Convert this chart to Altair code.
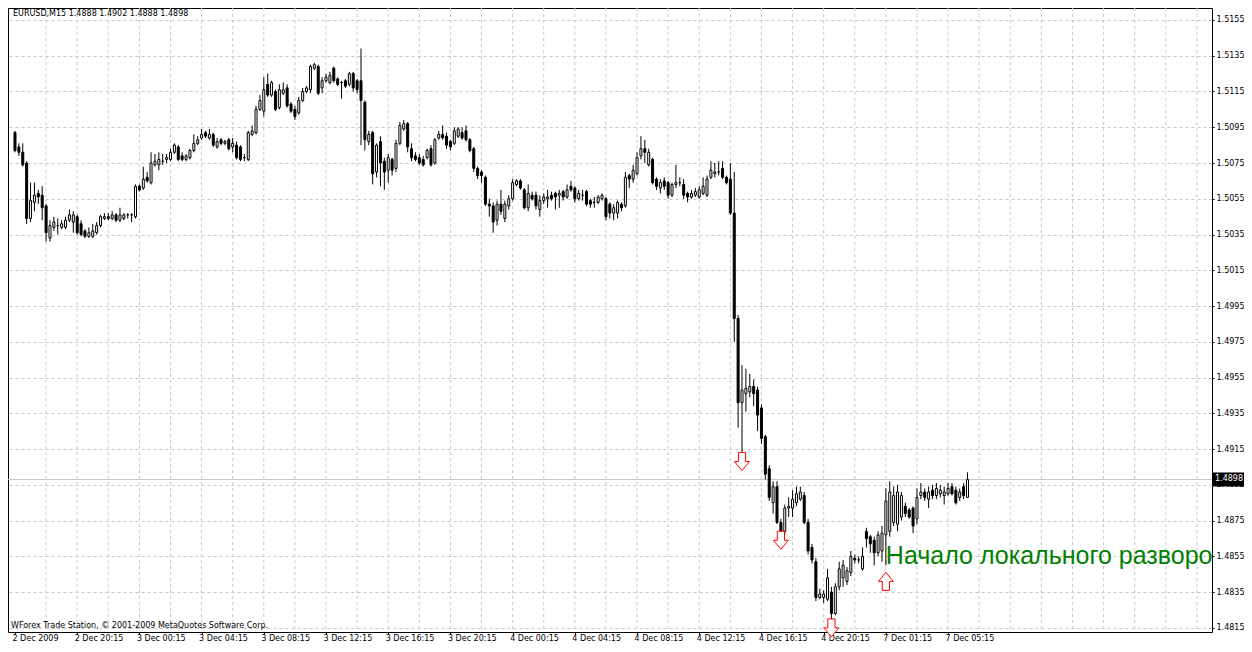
import altair as alt
import pandas as pd

# ---------------- data (EURUSD M15) ----------------
opens = [
    1.5092, 1.5084, 1.5081, 1.5075, 1.5044, 1.5053, 1.5058, 1.5057, 1.5051, 1.5033,
    1.5039, 1.5040, 1.5039, 1.5039, 1.5043, 1.5042, 1.5045, 1.5041, 1.5037, 1.5034,
    1.5034, 1.5036, 1.5040, 1.5044, 1.5045, 1.5044, 1.5046, 1.5043, 1.5044, 1.5046,
    1.5046, 1.5045, 1.5062, 1.5061, 1.5067, 1.5064, 1.5074, 1.5074, 1.5076, 1.5077,
    1.5077, 1.5081, 1.5084, 1.5079, 1.5077, 1.5078, 1.5082, 1.5086, 1.5089, 1.5092,
    1.5089, 1.5091, 1.5084, 1.5088, 1.5086, 1.5088, 1.5084, 1.5085, 1.5084, 1.5078,
    1.5077, 1.5091, 1.5092, 1.5105, 1.5104, 1.5119, 1.5113, 1.5115, 1.5106, 1.5114,
    1.5117, 1.5108, 1.5105, 1.5103, 1.5110, 1.5115, 1.5116, 1.5128, 1.5129, 1.5117,
    1.5121, 1.5120, 1.5128, 1.5122, 1.5120, 1.5121, 1.5119, 1.5125, 1.5121, 1.5121,
    1.5109, 1.5087, 1.5092, 1.5070, 1.5087, 1.5076, 1.5071, 1.5077, 1.5072, 1.5086,
    1.5094, 1.5097, 1.5083, 1.5079, 1.5078, 1.5077, 1.5078, 1.5083, 1.5075, 1.5089,
    1.5091, 1.5090, 1.5087, 1.5086, 1.5090, 1.5092, 1.5093, 1.5088, 1.5083, 1.5072,
    1.5070, 1.5067, 1.5052, 1.5051, 1.5043, 1.5052, 1.5044, 1.5051, 1.5055, 1.5063,
    1.5065, 1.5060, 1.5050, 1.5057, 1.5057, 1.5049, 1.5054, 1.5055, 1.5057, 1.5058,
    1.5057, 1.5059, 1.5056, 1.5062, 1.5061, 1.5055, 1.5057, 1.5059, 1.5054, 1.5053,
    1.5053, 1.5055, 1.5055, 1.5052, 1.5047, 1.5047, 1.5052, 1.5051, 1.5068, 1.5066,
    1.5069, 1.5079, 1.5083, 1.5074, 1.5077, 1.5066, 1.5061, 1.5065, 1.5064, 1.5057,
    1.5063, 1.5064, 1.5063, 1.5058, 1.5056, 1.5057, 1.5056, 1.5058, 1.5057, 1.5067,
    1.5069, 1.5070, 1.5072, 1.5067, 1.5066, 1.5047, 1.4988, 1.4941, 1.4946, 1.4947,
    1.4950, 1.4948, 1.4938, 1.4922, 1.4904, 1.4885, 1.4894, 1.4874, 1.4869, 1.4882,
    1.4882, 1.4885, 1.4887, 1.4889, 1.4874, 1.4860, 1.4852, 1.4832, 1.4832, 1.4831,
    1.4835, 1.4823, 1.4838, 1.4843, 1.4841, 1.4846, 1.4854, 1.4853, 1.4848, 1.4869,
    1.4866, 1.4864, 1.4857, 1.4858, 1.4867, 1.4869, 1.4874, 1.4873, 1.4877, 1.4883,
    1.4881, 1.4882, 1.4876, 1.4889, 1.4891, 1.4887, 1.4892, 1.4889, 1.4890, 1.4889,
    1.4890, 1.4894, 1.4892, 1.4888, 1.4894, 1.4888,
]
highs = [
    1.5093, 1.5086, 1.5086, 1.5076, 1.5064, 1.5064, 1.5060, 1.5062, 1.5052, 1.5043,
    1.5045, 1.5044, 1.5043, 1.5045, 1.5049, 1.5048, 1.5046, 1.5043, 1.5038, 1.5039,
    1.5041, 1.5042, 1.5046, 1.5047, 1.5047, 1.5048, 1.5047, 1.5050, 1.5047, 1.5047,
    1.5047, 1.5063, 1.5063, 1.5073, 1.5070, 1.5081, 1.5080, 1.5081, 1.5080, 1.5080,
    1.5083, 1.5086, 1.5085, 1.5081, 1.5080, 1.5083, 1.5091, 1.5090, 1.5094, 1.5093,
    1.5094, 1.5092, 1.5089, 1.5089, 1.5088, 1.5089, 1.5089, 1.5087, 1.5085, 1.5080,
    1.5093, 1.5096, 1.5107, 1.5113, 1.5123, 1.5125, 1.5121, 1.5116, 1.5119, 1.5120,
    1.5119, 1.5109, 1.5107, 1.5112, 1.5117, 1.5118, 1.5130, 1.5131, 1.5130, 1.5123,
    1.5125, 1.5126, 1.5129, 1.5123, 1.5121, 1.5122, 1.5126, 1.5126, 1.5122, 1.5139,
    1.5110, 1.5093, 1.5093, 1.5086, 1.5090, 1.5078, 1.5080, 1.5078, 1.5088, 1.5098,
    1.5099, 1.5098, 1.5086, 1.5081, 1.5080, 1.5079, 1.5083, 1.5085, 1.5089, 1.5093,
    1.5096, 1.5092, 1.5088, 1.5095, 1.5095, 1.5095, 1.5096, 1.5089, 1.5084, 1.5073,
    1.5071, 1.5068, 1.5055, 1.5053, 1.5054, 1.5060, 1.5054, 1.5057, 1.5066, 1.5066,
    1.5066, 1.5061, 1.5063, 1.5059, 1.5059, 1.5057, 1.5058, 1.5060, 1.5059, 1.5059,
    1.5060, 1.5060, 1.5063, 1.5065, 1.5062, 1.5060, 1.5060, 1.5060, 1.5055, 1.5056,
    1.5057, 1.5058, 1.5056, 1.5053, 1.5052, 1.5054, 1.5053, 1.5070, 1.5069, 1.5074,
    1.5081, 1.5090, 1.5088, 1.5083, 1.5078, 1.5067, 1.5066, 1.5067, 1.5065, 1.5064,
    1.5074, 1.5067, 1.5066, 1.5059, 1.5060, 1.5061, 1.5062, 1.5067, 1.5068, 1.5076,
    1.5075, 1.5076, 1.5076, 1.5068, 1.5075, 1.5070, 1.4990, 1.4962, 1.4960, 1.4957,
    1.4954, 1.4950, 1.4940, 1.4923, 1.4906, 1.4897, 1.4897, 1.4876, 1.4884, 1.4888,
    1.4892, 1.4894, 1.4894, 1.4891, 1.4876, 1.4862, 1.4854, 1.4837, 1.4836, 1.4848,
    1.4838, 1.4840, 1.4852, 1.4853, 1.4849, 1.4858, 1.4856, 1.4855, 1.4860, 1.4871,
    1.4867, 1.4866, 1.4869, 1.4872, 1.4893, 1.4897, 1.4894, 1.4895, 1.4891, 1.4885,
    1.4882, 1.4883, 1.4893, 1.4896, 1.4893, 1.4894, 1.4895, 1.4896, 1.4895, 1.4894,
    1.4896, 1.4896, 1.4894, 1.4893, 1.4896, 1.4902,
]
lows = [
    1.5081, 1.5079, 1.5073, 1.5041, 1.5042, 1.5048, 1.5052, 1.5043, 1.5031, 1.5031,
    1.5037, 1.5035, 1.5038, 1.5038, 1.5042, 1.5036, 1.5035, 1.5034, 1.5033, 1.5033,
    1.5033, 1.5035, 1.5039, 1.5043, 1.5043, 1.5043, 1.5042, 1.5042, 1.5043, 1.5044,
    1.5042, 1.5044, 1.5059, 1.5060, 1.5064, 1.5063, 1.5073, 1.5071, 1.5074, 1.5075,
    1.5076, 1.5080, 1.5076, 1.5076, 1.5076, 1.5077, 1.5081, 1.5085, 1.5088, 1.5089,
    1.5088, 1.5084, 1.5083, 1.5085, 1.5085, 1.5082, 1.5081, 1.5077, 1.5076, 1.5076,
    1.5076, 1.5090, 1.5091, 1.5104, 1.5101, 1.5112, 1.5112, 1.5104, 1.5105, 1.5113,
    1.5106, 1.5103, 1.5099, 1.5102, 1.5109, 1.5114, 1.5114, 1.5127, 1.5113, 1.5114,
    1.5120, 1.5119, 1.5120, 1.5118, 1.5111, 1.5117, 1.5118, 1.5115, 1.5114, 1.5085,
    1.5082, 1.5085, 1.5063, 1.5067, 1.5062, 1.5060, 1.5064, 1.5068, 1.5070, 1.5085,
    1.5093, 1.5081, 1.5076, 1.5076, 1.5074, 1.5073, 1.5077, 1.5073, 1.5074, 1.5088,
    1.5088, 1.5083, 1.5082, 1.5085, 1.5089, 1.5088, 1.5087, 1.5081, 1.5070, 1.5066,
    1.5064, 1.5051, 1.5045, 1.5036, 1.5040, 1.5046, 1.5042, 1.5049, 1.5054, 1.5062,
    1.5060, 1.5049, 1.5048, 1.5054, 1.5049, 1.5045, 1.5052, 1.5050, 1.5054, 1.5049,
    1.5050, 1.5054, 1.5055, 1.5059, 1.5053, 1.5054, 1.5054, 1.5051, 1.5050, 1.5050,
    1.5052, 1.5054, 1.5043, 1.5044, 1.5043, 1.5044, 1.5048, 1.5050, 1.5061, 1.5064,
    1.5068, 1.5077, 1.5075, 1.5073, 1.5063, 1.5060, 1.5058, 1.5060, 1.5055, 1.5056,
    1.5061, 1.5062, 1.5055, 1.5053, 1.5055, 1.5056, 1.5055, 1.5057, 1.5056, 1.5066,
    1.5067, 1.5068, 1.5066, 1.5063, 1.5046, 1.4975, 1.4927, 1.4913, 1.4936, 1.4944,
    1.4939, 1.4925, 1.4918, 1.4898, 1.4886, 1.4879, 1.4873, 1.4868, 1.4867, 1.4877,
    1.4877, 1.4883, 1.4886, 1.4873, 1.4856, 1.4851, 1.4830, 1.4831, 1.4829, 1.4830,
    1.4820, 1.4822, 1.4836, 1.4838, 1.4839, 1.4844, 1.4851, 1.4851, 1.4847, 1.4860,
    1.4857, 1.4850, 1.4855, 1.4852, 1.4850, 1.4866, 1.4872, 1.4869, 1.4875, 1.4877,
    1.4876, 1.4868, 1.4873, 1.4887, 1.4886, 1.4882, 1.4887, 1.4887, 1.4888, 1.4884,
    1.4889, 1.4889, 1.4884, 1.4886, 1.4887, 1.4888,
]
closes = [
    1.5082, 1.5081, 1.5074, 1.5044, 1.5054, 1.5057, 1.5056, 1.5050, 1.5036, 1.5040,
    1.5042, 1.5040, 1.5041, 1.5043, 1.5046, 1.5046, 1.5036, 1.5035, 1.5034, 1.5036,
    1.5037, 1.5040, 1.5045, 1.5045, 1.5044, 1.5046, 1.5043, 1.5046, 1.5046, 1.5046,
    1.5046, 1.5062, 1.5060, 1.5066, 1.5065, 1.5075, 1.5076, 1.5077, 1.5076, 1.5078,
    1.5081, 1.5085, 1.5077, 1.5077, 1.5079, 1.5082, 1.5086, 1.5088, 1.5091, 1.5090,
    1.5091, 1.5085, 1.5087, 1.5086, 1.5087, 1.5083, 1.5086, 1.5078, 1.5077, 1.5078,
    1.5092, 1.5093, 1.5105, 1.5110, 1.5116, 1.5113, 1.5120, 1.5105, 1.5116, 1.5116,
    1.5107, 1.5104, 1.5101, 1.5110, 1.5115, 1.5117, 1.5129, 1.5130, 1.5114, 1.5121,
    1.5123, 1.5124, 1.5121, 1.5119, 1.5120, 1.5118, 1.5125, 1.5117, 1.5116, 1.5110,
    1.5088, 1.5091, 1.5069, 1.5085, 1.5075, 1.5070, 1.5078, 1.5071, 1.5086, 1.5096,
    1.5097, 1.5084, 1.5078, 1.5077, 1.5075, 1.5074, 1.5082, 1.5074, 1.5088, 1.5091,
    1.5089, 1.5085, 1.5084, 1.5093, 1.5094, 1.5089, 1.5088, 1.5082, 1.5072, 1.5068,
    1.5068, 1.5052, 1.5051, 1.5042, 1.5052, 1.5048, 1.5052, 1.5055, 1.5064, 1.5065,
    1.5061, 1.5050, 1.5058, 1.5055, 1.5051, 1.5054, 1.5056, 1.5056, 1.5055, 1.5056,
    1.5058, 1.5056, 1.5060, 1.5060, 1.5055, 1.5058, 1.5057, 1.5052, 1.5052, 1.5053,
    1.5056, 1.5057, 1.5045, 1.5047, 1.5050, 1.5053, 1.5050, 1.5067, 1.5066, 1.5071,
    1.5078, 1.5083, 1.5081, 1.5081, 1.5064, 1.5062, 1.5064, 1.5062, 1.5057, 1.5063,
    1.5064, 1.5064, 1.5057, 1.5056, 1.5058, 1.5059, 1.5060, 1.5062, 1.5066, 1.5071,
    1.5070, 1.5070, 1.5067, 1.5064, 1.5047, 1.4988, 1.4941, 1.4948, 1.4949, 1.4950,
    1.4946, 1.4934, 1.4921, 1.4901, 1.4888, 1.4894, 1.4874, 1.4869, 1.4882, 1.4883,
    1.4887, 1.4890, 1.4891, 1.4874, 1.4858, 1.4853, 1.4832, 1.4834, 1.4834, 1.4843,
    1.4823, 1.4838, 1.4848, 1.4850, 1.4847, 1.4855, 1.4853, 1.4853, 1.4855, 1.4865,
    1.4862, 1.4857, 1.4867, 1.4868, 1.4886, 1.4891, 1.4889, 1.4891, 1.4889, 1.4879,
    1.4877, 1.4872, 1.4888, 1.4891, 1.4888, 1.4891, 1.4889, 1.4893, 1.4892, 1.4891,
    1.4893, 1.4890, 1.4885, 1.4891, 1.4889, 1.4898,
]

time_labels = [
    "2 Dec 2009", "2 Dec 20:15", "3 Dec 00:15", "3 Dec 04:15", "3 Dec 08:15",
    "3 Dec 12:15", "3 Dec 16:15", "3 Dec 20:15", "4 Dec 00:15", "4 Dec 04:15",
    "4 Dec 08:15", "4 Dec 12:15", "4 Dec 16:15", "4 Dec 20:15", "7 Dec 01:15",
    "7 Dec 05:15",
]
time_tick_index = [0, 16, 32, 48, 64, 80, 96, 112, 128, 144, 160, 176, 192, 208, 224, 240]
grid_index = list(range(8, 305, 8))
price_ticks = [1.4815, 1.4835, 1.4855, 1.4875, 1.4895, 1.4915, 1.4935, 1.4955, 1.4975,
               1.4995, 1.5015, 1.5035, 1.5055, 1.5075, 1.5095, 1.5115, 1.5135, 1.5155]

arrow_index = [187, 197, 210, 224]
arrow_price = [1.4908, 1.4864, 1.4815, 1.4841]
arrow_dir = ["down", "down", "down", "up"]

bid_price = 1.4898
title_text = "EURUSD,M15  1.4888 1.4902 1.4888 1.4898"
footer_text = "WForex Trade Station, © 2001-2009 MetaQuotes Software Corp."
note_text = "Начало локального разворо"
note_index = 224
note_price = 1.4851

# ---------------- chart ----------------
n = len(closes)
df = pd.DataFrame({"i": list(range(n)), "open": opens, "high": highs,
                   "low": lows, "close": closes})

PLOT_W, PLOT_H = 1204, 624
xs = alt.Scale(domain=[-0.51, 306.6], nice=False, zero=False)
ys = alt.Scale(domain=[1.48127, 1.51617], nice=False, zero=False)

FONT = "DejaVu Sans"
label_arr = "[" + ",".join("'" + t + "'" for t in time_labels) + "]"

x_axis = alt.Axis(values=time_tick_index, labelExpr=label_arr + "[round(datum.value/16)]",
                  labelAlign="left", labelFont=FONT, labelFontSize=8, labelColor="black",
                  tickColor="black", tickSize=2, labelPadding=0, labelOffset=-3,
                  grid=False, domain=False, title=None, labelFlush=False,
                  labelOverlap=False)
y_axis = alt.Axis(orient="right", values=price_ticks, format=".4f", labelFont=FONT,
                  labelFontSize=8, labelColor="black", tickColor="black", tickSize=2,
                  labelPadding=2, domain=False, grid=True, gridColor="#c8c8c8",
                  gridDash=[3, 3], gridWidth=1, title=None, labelOverlap=False,
                  labelBound=False)

vgrid = alt.Chart(pd.DataFrame({"g": grid_index})).mark_rule(
    color="#c8c8c8", strokeDash=[3, 3], strokeWidth=1
).encode(x=alt.X("g:Q", scale=xs, axis=x_axis))

bid = alt.Chart(pd.DataFrame({"p": [bid_price]})).mark_rule(
    color="#c8c8c8", strokeWidth=1
).encode(y=alt.Y("p:Q", scale=ys, axis=y_axis))

wick = alt.Chart(df).mark_rule(color="black", strokeWidth=1).encode(
    x=alt.X("i:Q", scale=xs, axis=x_axis), y=alt.Y("low:Q", scale=ys, axis=y_axis), y2="high:Q")

body = alt.Chart(df).transform_calculate(
    top="max(datum.open, datum.close)", bot="min(datum.open, datum.close)"
).mark_bar(size=2, stroke="black", strokeWidth=1).encode(
    x=alt.X("i:Q", scale=xs, axis=x_axis),
    y=alt.Y("bot:Q", scale=ys, axis=y_axis),
    y2="top:Q",
    fill=alt.condition("datum.close >= datum.open", alt.value("white"), alt.value("black")),
)

down_path = "M0,1 L0.83,0 L0.4,0 L0.4,-1 L-0.4,-1 L-0.4,0 L-0.83,0 Z"
up_path = "M0,-1 L0.83,0 L0.4,0 L0.4,1 L-0.4,1 L-0.4,0 L-0.83,0 Z"
arrows = alt.Chart(pd.DataFrame({"i": arrow_index, "p": arrow_price, "d": arrow_dir})).mark_point(
    filled=True, fill="white", stroke="#ff0000", strokeWidth=1, size=324, opacity=1
).encode(
    x=alt.X("i:Q", scale=xs, axis=x_axis), y=alt.Y("p:Q", scale=ys, axis=y_axis),
    shape=alt.Shape("d:N", scale=alt.Scale(domain=["down", "up"], range=[down_path, up_path]),
                    legend=None),
)

note = alt.Chart(pd.DataFrame({"i": [note_index], "p": [note_price], "t": [note_text]})).mark_text(
    align="left", baseline="alphabetic", font="Liberation Sans", fontSize=25,
    color="#008000", clip=True
).encode(x=alt.X("i:Q", scale=xs, axis=x_axis), y=alt.Y("p:Q", scale=ys, axis=y_axis),
         text="t:N")

title = alt.Chart(pd.DataFrame({"t": [title_text]})).mark_text(
    align="left", baseline="middle", font=FONT, fontSize=8, color="black"
).encode(x=alt.value(5), y=alt.value(6), text="t:N")

footer = alt.Chart(pd.DataFrame({"t": [footer_text]})).mark_text(
    align="left", baseline="middle", font=FONT, fontSize=8, color="black"
).encode(x=alt.value(3), y=alt.value(618), text="t:N")

bid_box = alt.Chart(pd.DataFrame({"p": [bid_price]})).mark_rect(
    color="black", yOffset=-7, y2Offset=7
).encode(x=alt.value(PLOT_W + 1), x2=alt.value(PLOT_W + 32),
         y=alt.Y("p:Q", scale=ys, axis=y_axis), y2="p:Q")

bid_label = alt.Chart(pd.DataFrame({"p": [bid_price], "t": [f"{bid_price:.4f}"]})).mark_text(
    align="left", baseline="middle", font=FONT, fontSize=8, color="white"
).encode(x=alt.value(PLOT_W + 3), y=alt.Y("p:Q", scale=ys, axis=y_axis), text="t:N")

chart = alt.layer(
    vgrid, bid, wick, body, arrows, note, title, footer, bid_box, bid_label
).properties(
    width=PLOT_W, height=PLOT_H,
    autosize=alt.AutoSizeParams(type="none"),
    padding={"left": 0, "top": 0, "right": 32, "bottom": 12},
    background="white",
).configure_view(stroke="black", strokeWidth=1).configure_axis(labelOverlap=False)

chart.save("out.html", embed_options={"renderer": "svg", "actions": False})
